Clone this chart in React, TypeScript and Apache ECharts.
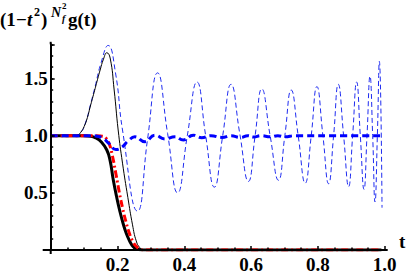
import React, { useEffect, useRef } from 'react';
import * as echarts from 'echarts';

// Thick black solid curve
const thickBlackT = [0, 0.1, 0.12, 0.135, 0.15, 0.168, 0.178, 0.187, 0.197, 0.207, 0.217, 0.227, 0.237, 0.247, 0.26, 0.275, 0.99];
const thickBlackV = [1, 1, 0.995, 0.98, 0.95, 0.875, 0.78, 0.62, 0.47, 0.34, 0.23, 0.14, 0.075, 0.03, 0.007, 0, 0];

// Thick red dash-dot curve
const redT = [0, 0.13, 0.15, 0.163, 0.175, 0.185, 0.195, 0.205, 0.215, 0.225, 0.235, 0.245, 0.255, 0.268, 0.28, 0.99];
const redV = [1, 1, 0.997, 0.985, 0.93, 0.82, 0.67, 0.51, 0.37, 0.25, 0.15, 0.08, 0.035, 0.008, 0, 0];

// Thin black solid curve
const thinBlackT = [0, 0.07, 0.08, 0.09, 0.1, 0.11, 0.118, 0.13, 0.14, 0.148, 0.158, 0.168, 0.178, 0.19, 0.202, 0.215, 0.231, 0.245, 0.256, 0.267, 0.28, 0.99];
const thinBlackV = [1, 1, 1.005, 1.03, 1.08, 1.16, 1.25, 1.38, 1.49, 1.575, 1.67, 1.726, 1.68, 1.4, 1.05, 0.76, 0.46, 0.22, 0.08, 0.02, 0, 0];

// Thin blue dashed oscillating curve
const thinBlueT = [0, 0.07, 0.09, 0.105, 0.118, 0.133, 0.15, 0.172, 0.194, 0.215, 0.26, 0.29, 0.32, 0.35, 0.38, 0.409, 0.438, 0.464, 0.49, 0.515, 0.54, 0.566, 0.592, 0.612, 0.632, 0.657, 0.682, 0.701, 0.72, 0.741, 0.762, 0.78, 0.797, 0.815, 0.832, 0.847, 0.861, 0.877, 0.892, 0.904, 0.916, 0.927, 0.938, 0.947, 0.956, 0.964, 0.971, 0.978, 0.984, 0.992];
const thinBlueV = [1, 1, 1.03, 1.12, 1.26, 1.43, 1.63, 1.79, 1.55, 1.05, 0.34, 0.97, 1.55, 1.02, 0.5, 1.0, 1.47, 1.0, 0.55, 1.0, 1.45, 1.02, 0.6, 1.0, 1.41, 1.0, 0.61, 1.0, 1.4, 1.0, 0.585, 1.0, 1.43, 1.0, 0.58, 1.0, 1.45, 1.0, 0.555, 1.0, 1.47, 1.0, 0.53, 1.0, 1.52, 1.0, 0.42, 1.0, 1.65, 0.37];

// Thick blue dashed curve
const thickBlueT = [0, 0.12, 0.14, 0.158, 0.175, 0.195, 0.213, 0.232, 0.252, 0.282, 0.312, 0.342, 0.372, 0.397, 0.427, 0.452, 0.48, 0.513, 0.54, 0.568, 0.59, 0.607, 0.63, 0.657, 0.68, 0.702, 0.73, 0.99];
const thickBlueV = [1, 1, 0.995, 0.975, 0.93, 0.88, 0.9, 0.955, 0.99, 0.948, 1.005, 0.972, 0.99, 0.963, 1.005, 0.983, 1.0, 0.985, 1.0, 0.985, 1.0, 0.988, 1.0, 0.99, 1.0, 0.99, 1.0, 1.0];

const xTickLabels = [0.2, 0.4, 0.6, 0.8, 1.0];
const yTickLabels = [0.5, 1.0, 1.5];

const pairs = (t: number[], v: number[]) => t.map((x, i) => [x, v[i]]);

const SERIF = 'Liberation Serif';

export default function App() {
  const ref = useRef<HTMLDivElement>(null);
  useEffect(() => {
    document.body.style.margin = '0';
    const chart = echarts.init(ref.current!, null, { renderer: 'svg' });
    const labelStyle = { color: '#000', fontFamily: SERIF, fontWeight: 'bold' as const, fontSize: 19 };
    const hasLabel = (list: number[], v: number) => list.some((t) => Math.abs(t - v) < 1e-6);
    const option: any = {
      animation: false,
      grid: { left: 50.7, right: 22.3, top: 44.3, bottom: 26 },
      xAxis: {
        type: 'value', min: 0, max: 1.0, interval: 0.2, z: 10,
        axisLine: { onZero: false, lineStyle: { color: '#000', width: 2 } },
        axisTick: { inside: true, length: 4, lineStyle: { color: '#000', width: 1.5 } },
        minorTick: { show: true, splitNumber: 4, length: 2.5, lineStyle: { color: '#000', width: 1.5 } },
        splitLine: { show: false },
        axisLabel: { ...labelStyle, margin: 5, formatter: (v: number) => (hasLabel(xTickLabels, v) ? v.toFixed(1) : '') },
      },
      yAxis: [
        {
          type: 'value', min: 0, max: 1.8, interval: 0.1, z: 10,
          axisLine: { onZero: false, lineStyle: { color: '#000', width: 2 } },
          axisTick: { inside: true, length: 2.5, lineStyle: { color: '#000', width: 1.5 } },
          splitLine: { show: false },
          axisLabel: { show: false },
        },
        {
          type: 'value', min: 0, max: 1.8, interval: 0.5, position: 'left', z: 10,
          axisLine: { show: false },
          axisTick: { inside: true, length: 4, lineStyle: { color: '#000', width: 1.5 } },
          splitLine: { show: false },
          axisLabel: { ...labelStyle, margin: 3, formatter: (v: number) => (hasLabel(yTickLabels, v) ? v.toFixed(1) : '') },
        },
      ],
      series: [
        {
          type: 'line', data: pairs(thinBlueT, thinBlueV), showSymbol: false, symbol: 'none', smooth: 0.5,
          lineStyle: { color: '#1f2cf0', width: 1, type: [5, 3] }, z: 2,
        },
        {
          type: 'line', data: pairs(thinBlackT, thinBlackV), showSymbol: false, symbol: 'none', smooth: 0.5,
          lineStyle: { color: '#000', width: 1 }, z: 3,
        },
        {
          type: 'line', data: pairs(thickBlackT, thickBlackV), showSymbol: false, symbol: 'none', smooth: 0.5,
          lineStyle: { color: '#000', width: 3 }, z: 4,
        },
        {
          type: 'line', data: pairs(redT, redV), showSymbol: false, symbol: 'none', smooth: 0.5,
          lineStyle: { color: '#f00', width: 3, type: [7, 3, 2, 3] }, z: 5,
        },
        {
          type: 'line', data: pairs(thickBlueT, thickBlueV), showSymbol: false, symbol: 'none', smooth: 0.5,
          lineStyle: { color: '#0000ff', width: 3, type: [7, 4] }, z: 6,
        },
      ],
    };
    chart.setOption(option);

    const o = chart.convertToPixel({ gridIndex: 0 }, [0, 0]) as number[];
    const e = chart.convertToPixel({ gridIndex: 0 }, [1.0, 1.8]) as number[];
    const axisExt = { stroke: '#000', lineWidth: 2 };
    const t = (text: string, x: number, y: number, size: number, italic = false) => ({
      type: 'text', x, y, z: 20,
      style: {
        text, fill: '#000', fontFamily: SERIF, fontWeight: 'bold', fontStyle: italic ? 'italic' : 'normal',
        fontSize: size, align: 'left', verticalAlign: 'middle', textAlign: 'left', textVerticalAlign: 'middle',
      },
    });
    chart.setOption({
      graphic: [
        { type: 'line', z: 20, shape: { x1: o[0] - 8, y1: o[1], x2: o[0], y2: o[1] }, style: axisExt },
        { type: 'line', z: 20, shape: { x1: e[0], y1: o[1], x2: e[0] + 3, y2: o[1] }, style: axisExt },
        { type: 'line', z: 20, shape: { x1: o[0], y1: o[1], x2: o[0], y2: o[1] + 4 }, style: axisExt },
        { type: 'line', z: 20, shape: { x1: o[0], y1: e[1], x2: o[0], y2: e[1] - 2.5 }, style: axisExt },
        t('(1', 0, 19.5, 19),
        t('\u2212', 16, 19.5, 19),
        t('t', 27, 19.5, 19, true),
        t('2', 34, 12, 12),
        t(')', 41, 19.5, 19),
        t('N', 51, 12, 14, true),
        t('2', 62, 6, 9),
        t('f', 62, 18, 10, true),
        t('g(t)', 68, 19.5, 19),
        t('t', 399, 241, 19),
      ],
    });
    return () => chart.dispose();
  }, []);
  return <div ref={ref} style={{ width: 407, height: 276 }} />;
}
